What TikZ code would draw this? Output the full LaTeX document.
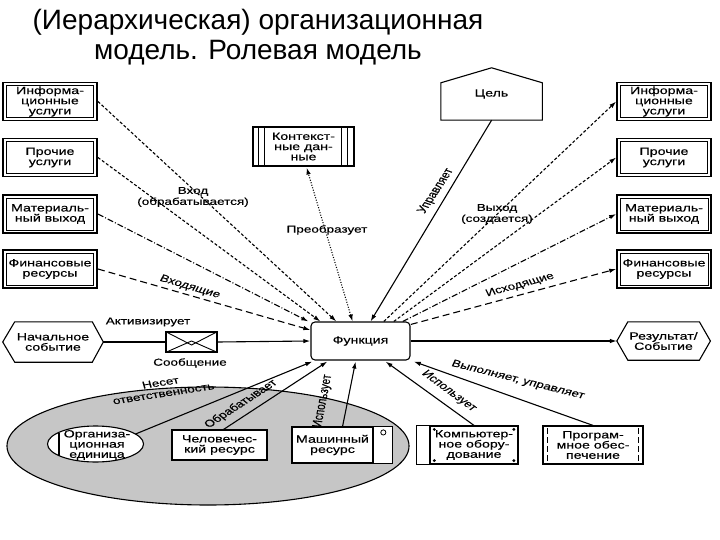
\documentclass[tikz,border=0pt]{standalone}
\usepackage{fontspec}
\setmainfont{Liberation Sans}
\newfontfamily\dg[FakeBold=0.3]{Liberation Sans}
\usetikzlibrary{arrows.meta,calc,shapes.geometric}
\tikzset{
  base/.style={font=\dg\fontsize{10.5}{10.2}\selectfont, align=center, inner sep=0pt},
  lab/.style={font=\dg\fontsize{10}{11}\selectfont, align=center, inner sep=0pt},
  dbox/.style={base, draw, line width=1.4pt, fill=white, minimum width=69.6pt, minimum height=38pt,
    path picture={\draw[line width=0.8pt] ([shift={(2.3pt,-3pt)}]path picture bounding box.north west) rectangle ([shift={(-2.3pt,3pt)}]path picture bounding box.south east);}},
  ln/.style={line width=1.1pt},
  arr/.style={-{Latex[length=7pt,width=4.5pt]}, line width=1.1pt},
  barr/.style={{Latex[length=7pt,width=4.5pt]}-{Latex[length=7pt,width=4.5pt]}, line width=1.1pt},
  dsh/.style={dash pattern=on 3pt off 2pt},
  ldsh/.style={dash pattern=on 7pt off 4pt},
  ddot/.style={dash pattern=on 6pt off 2pt on 1pt off 2pt},
  dots/.style={dash pattern=on 1pt off 1.6pt},
}
\begin{document}
\begin{tikzpicture}[x=1pt,y=-1pt]
\useasboundingbox (0,0) rectangle (720,540);
\node[font=\fontsize{28}{30}\selectfont, align=center, inner sep=0pt] (title) at (258,37)
  {(Иерархическая) организационная\\модель. Ролевая модель};

\begin{scope}[x=0.740741pt, xscale=1.35, transform shape]
% grey ellipse
\node[ellipse, draw, ln, fill=gray!45, minimum width=297.8pt, minimum height=118pt, inner sep=0pt] (org) at (208,446) {};

% left boxes
\node[dbox] (li1) at (50,101.5) {Информа-\\ционные\\услуги};
\node[dbox] (li2) at (50,157.5) {Прочие\\услуги};
\node[dbox] (li3) at (50,214) {Материаль-\\ный выход};
\node[dbox] (li4) at (50,269) {Финансовые\\ресурсы};
% right boxes
\node[dbox] (ro1) at (664,101.5) {Информа-\\ционные\\услуги};
\node[dbox] (ro2) at (664,157.5) {Прочие\\услуги};
\node[dbox] (ro3) at (664,214) {Материаль-\\ный выход};
\node[dbox] (ro4) at (664,269) {Финансовые\\ресурсы};

% context data
\node[base, draw, line width=1.1pt, minimum width=74.8pt, minimum height=39pt] (ctx) at (303.5,146.5) {Контекст-\\ные дан-\\ные};
\draw[ln] ($(ctx.north west)+(6,0)$) -- ($(ctx.south west)+(6,0)$);
\draw[ln] ($(ctx.north west)+(12,0)$) -- ($(ctx.south west)+(12,0)$);
\draw[ln] ($(ctx.north east)+(-7,0)$) -- ($(ctx.south east)+(-7,0)$);
\draw[ln] ($(ctx.north east)+(-13,0)$) -- ($(ctx.south east)+(-13,0)$);

% goal
\node[base, minimum width=74.8pt, minimum height=52pt] (goal) at (491.5,94) {\raisebox{-4pt}{Цель}};
\draw[line width=1.1pt] (goal.south west) -- ($(goal.north west)+(0,15)$) -- (goal.north) -- ($(goal.north east)+(0,15)$) -- (goal.south east) -- cycle;

% function
\node[base, draw, rounded corners=4pt, line width=1.1pt, minimum width=73.3pt, minimum height=38pt] (f) at (360.5,341) {Функция};

% start event
\node[base, minimum width=74.1pt, minimum height=40pt] (se) at (53,342) {Начальное\\событие};
\draw[line width=1.1pt] (se.west) -- ($(se.north west)+(12,0)$) -- ($(se.north east)+(-11,0)$) -- (se.east) -- ($(se.south east)+(-11,0)$) -- ($(se.south west)+(12,0)$) -- cycle;

% message
\node[draw, line width=1.1pt, minimum width=37.8pt, minimum height=20pt, inner sep=0pt] (msg) at (191.5,342) {};
\draw[line width=0.9pt] (msg.north west) -- ($(msg.center)+(0,3)$) -- (msg.north east);
\draw[line width=0.9pt] (msg.south west) -- ($(msg.center)+(0,-1)$) -- (msg.south east);

% result
\node[base, minimum width=68.9pt, minimum height=38pt] (res) at (663.5,341) {Результат/\\Событие};
\draw[line width=1.1pt] (res.west) -- ($(res.north west)+(11,0)$) -- ($(res.north east)+(-11,0)$) -- (res.east) -- ($(res.south east)+(-11,0)$) -- ($(res.south west)+(11,0)$) -- cycle;

% resources
\coordinate (ouc) at (95.5,444);
\draw[line width=1.1pt, fill=white] (ouc) ellipse [x radius=35.56pt, y radius=18pt];
\draw[line width=1.1pt] ($(ouc)+(-36.5,-11.5)$) -- ($(ouc)+(-36.5,11.5)$);
\node[base] (ou) at (97,445) {Организа-\\ционная\\единица};
\node[base, draw, fill=white, line width=1.1pt, minimum width=70.4pt, minimum height=30pt] (hr) at (219.5,445) {Человечес-\\кий ресурс};
\node[base, draw, fill=white, line width=1.1pt, minimum width=60pt, minimum height=36pt] (mr) at (332.5,445) {Машинный\\ресурс};
\draw[line width=1.1pt, fill=white] (mr.north east) rectangle ($(mr.south east)+(19,0)$);
\draw[line width=0.8pt] ($(mr.north east)+(9.5,6)$) ellipse [x radius=1.9pt, y radius=2.6pt];
\node[base, draw, fill=white, line width=1.1pt, minimum width=65.2pt, minimum height=38pt] (cr) at (474,445) {Компьютер-\\ное обору-\\дование};
\draw[line width=1.1pt] ($(cr.north west)+(-13,0)$) rectangle (cr.south west);
\fill ($(cr.north west)+(5,4)$) ellipse [x radius=1.2pt, y radius=1.6pt];
\fill ($(cr.north east)+(-5,4)$) ellipse [x radius=1.2pt, y radius=1.6pt];
\fill ($(cr.south west)+(5,-4)$) ellipse [x radius=1.2pt, y radius=1.6pt];
\fill ($(cr.south east)+(-5,-4)$) ellipse [x radius=1.2pt, y radius=1.6pt];
\node[base, draw, fill=white, line width=1.1pt, minimum width=74.1pt, minimum height=38pt] (pr) at (593,445) {Програм-\\мное обес-\\печение};
\draw[line width=0.9pt, dash pattern=on 6pt off 3pt] ($(pr.north west)+(5,3)$) -- ($(pr.south west)+(5,-3)$);
\draw[line width=0.9pt, dash pattern=on 6pt off 3pt] ($(pr.north east)+(-5,3)$) -- ($(pr.south east)+(-5,-3)$);
\coordinate (oue) at ($(ouc)+(40,-10)$);

% inputs
\draw[arr, dsh] (li1.east) -- ($(f.north west)+(26,0)$);
\draw[arr, dsh] (li2.east) -- ($(f.north west)+(10,0)$);
\draw[arr, ddot] (li3.east) -- ($(f.north west)+(-2,0)$);
\draw[arr, ldsh] (li4.east) -- ($(f.west)+(0,-11)$);
\draw[barr, dots] ($(f.north)+(-8,0)$) -- ($(ctx.south)+(3,1)$);
\draw[arr] (goal.south) -- ($(f.north)+(10,0)$);
% outputs
\draw[arr, dsh] ($(f.north east)+(-27,0)$) -- (ro1.west);
\draw[arr, dsh] ($(f.north east)+(-17,0)$) -- (ro2.west);
\draw[arr, ddot] ($(f.north east)+(-8,0)$) -- (ro3.west);
\draw[arr, ldsh] ($(f.north east)+(0,3)$) -- (ro4.west);
% events
\draw[ln] (se.east) -- (msg.west);
\draw[arr] (msg.east) -- (f.west);
\draw[arr] (f.east) -- (res.west);
% resources
\draw[arr] (oue) -- ($(f.south west)+(2,1)$);
\draw[arr] ($(hr.north)+(4,0)$) -- ($(f.south west)+(17,1)$);
\draw[arr] ($(mr.north)+(10,0)$) -- ($(f.south)+(-5,1)$);
\draw[arr] (cr.north) -- ($(f.south)+(25,1)$);
\draw[arr] (pr.north) -- ($(f.south east)+(3,1)$);

% labels
\node[lab] (l1) at (193,197) {Вход\\(обрабатывается)};
\node[lab, rotate=-21.7] (l2) at (190,287) {Входящие};
\node[lab] (l3) at (327,230) {Преобразует};
\node[lab, rotate=64] (l4) at (436,191) {Управляет};
\node[lab] (l5) at (497,214) {Выход\\(создается)};
\node[lab, rotate=20.2] (l6) at (520,285) {Исходящие};
\node[lab] (l7) at (148,322) {Активизирует};
\node[lab] (l8) at (190,363) {Сообщение};
\node[lab, rotate=11.7] (l9) at (162,388) {Несет\\ответственность};
\node[lab, rotate=41.2] (l10) at (241,404) {Обрабатывает};
\node[lab, rotate=81.7] (l11) at (323,401) {Использует};
\node[lab, rotate=-44.9] (l12) at (449,391) {Использует};
\node[lab, rotate=-18.6] (l13) at (518,380) {Выполняет, управляет};
\end{scope}
\end{tikzpicture}
\end{document}
